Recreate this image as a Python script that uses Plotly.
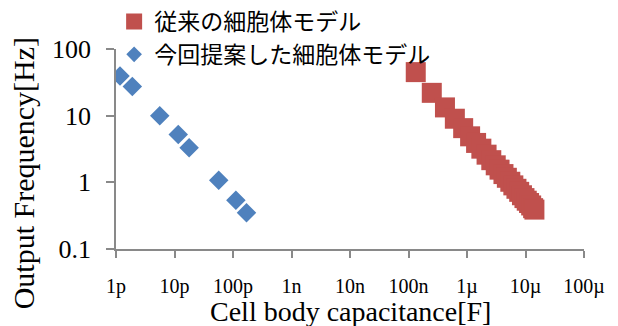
import plotly.graph_objects as go

# Conventional cell-body model (capacitance in µF, output frequency in Hz)
conv_cap_uF = [0.133, 0.25, 0.42, 0.62, 0.86, 1.13, 1.43, 1.76, 2.16, 2.6, 3.1, 3.6,
               4.2, 4.8, 5.5, 6.2, 7.0, 7.8, 8.7, 9.6, 10.5, 11.5, 12.5, 13.5, 14.2]
conv_freq = [45, 22, 13.3, 9.0, 6.5, 4.9, 3.9, 3.2, 2.6, 2.15, 1.8, 1.55,
             1.33, 1.17, 1.02, 0.9, 0.8, 0.72, 0.64, 0.58, 0.53, 0.49, 0.45, 0.41, 0.39]

# Proposed cell-body model (capacitance in pF, output frequency in Hz)
prop_cap_pF = [1.17, 1.9, 5.6, 11.6, 17.8, 57, 112, 170]
prop_freq = [39.5, 27.4, 10, 5.2, 3.3, 1.07, 0.54, 0.35]

series_names = ["従来の細胞体モデル", "今回提案した細胞体モデル"]

x_tick_vals = [1e-12, 1e-11, 1e-10, 1e-9, 1e-8, 1e-7, 1e-6, 1e-5, 1e-4]
x_tick_text = ["1p", "10p", "100p", "1n", "10n", "100n", "1µ", "10µ", "100µ"]
y_tick_vals = [0.1, 1, 10, 100]
y_tick_text = ["0.1", "1", "10", "100"]

RED = "#C0504D"
BLUE = "#4F81BD"
AXIS = "#898989"
SERIF = "Liberation Serif, Times New Roman, serif"
CJK = "Noto Sans CJK JP, sans-serif"

fig = go.Figure()

fig.add_trace(go.Scatter(
    x=[c * 1e-6 for c in conv_cap_uF], y=conv_freq, mode="markers",
    marker=dict(symbol="square", size=20, color=RED, line=dict(width=0)),
    showlegend=False,
))
fig.add_trace(go.Scatter(
    x=[c * 1e-12 for c in prop_cap_pF], y=prop_freq, mode="markers",
    marker=dict(symbol="diamond", size=15, color=BLUE, line=dict(width=0)),
    showlegend=False,
))

# legend entries with smaller key markers
fig.add_trace(go.Scatter(
    x=[None], y=[None], mode="markers", name=series_names[0],
    marker=dict(symbol="square", size=16, color=RED, line=dict(width=0)),
))
fig.add_trace(go.Scatter(
    x=[None], y=[None], mode="markers", name=series_names[1],
    marker=dict(symbol="diamond", size=12, color=BLUE, line=dict(width=0)),
))

fig.update_xaxes(
    type="log", range=[-12, -4],
    tickvals=x_tick_vals, ticktext=x_tick_text,
    tickfont=dict(family=SERIF, size=20, color="#000000"),
    ticks="outside", ticklen=7, tickcolor=AXIS, tickwidth=1.5,
    showline=True, linecolor=AXIS, linewidth=1.5,
    showgrid=False, zeroline=False, ticklabelstandoff=11,
)
fig.update_yaxes(
    type="log", range=[-1, 2],
    tickvals=y_tick_vals, ticktext=y_tick_text,
    tickfont=dict(family=SERIF, size=26, color="#000000"),
    ticks="outside", ticklen=8, tickcolor=AXIS, tickwidth=1.5,
    showline=True, linecolor=AXIS, linewidth=1.5,
    showgrid=False, zeroline=False, ticklabelstandoff=10,
)

fig.add_annotation(
    text="Cell body capacitance[F]", xref="paper", yref="paper",
    x=0.5, y=-0.31, xanchor="center", yanchor="middle", showarrow=False,
    font=dict(family=SERIF, size=28, color="#000000"),
)
fig.add_annotation(
    text="Output Frequency[Hz]", xref="paper", yref="paper",
    x=-0.198, y=0.38, xanchor="center", yanchor="middle", showarrow=False,
    textangle=-90,
    font=dict(family=SERIF, size=30, color="#000000"),
)

fig.update_layout(
    width=618, height=326, autosize=False,
    margin=dict(l=116, r=34, t=49, b=77, autoexpand=False),
    paper_bgcolor="white", plot_bgcolor="white",
    legend=dict(
        x=-0.004, y=1.245, xanchor="left", yanchor="top",
        font=dict(family=CJK, size=23, color="#000000"),
        bgcolor="rgba(0,0,0,0)", tracegroupgap=0, itemsizing="trace",
    ),
)

fig.write_html("out.html")
